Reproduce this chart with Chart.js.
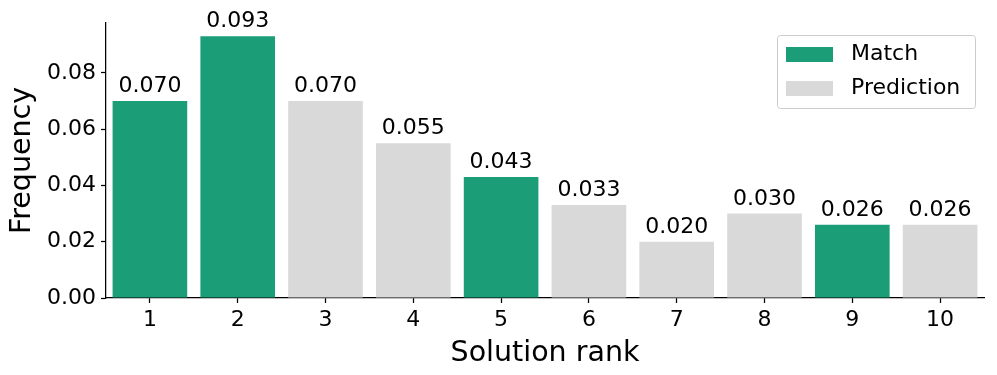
<!DOCTYPE html>
<html>
<head>
<meta charset="utf-8">
<script src="https://cdn.jsdelivr.net/npm/chart.js@4.4.0/dist/chart.umd.min.js"></script>
<style>
  html, body { margin: 0; padding: 0; background: #fff; }
  #wrap { width: 997px; height: 375px; }
</style>
</head>
<body>
<div id="wrap"><canvas id="rankChart" width="997" height="375"></canvas></div>
<script>
const ranks = ["1", "2", "3", "4", "5", "6", "7", "8", "9", "10"];
const frequency = [0.070, 0.093, 0.070, 0.055, 0.043, 0.033, 0.020, 0.030, 0.026, 0.026];
const isMatch = [true, true, false, false, true, false, false, false, true, false];
const yTicks = [0.00, 0.02, 0.04, 0.06, 0.08];

const matchColor = "#1b9e77";
const predColor = "#d9d9d9";
const font = "'DejaVu Sans', sans-serif";

const matchData = frequency.map((v, i) => (isMatch[i] ? v : null));
const predData = frequency.map((v, i) => (isMatch[i] ? null : v));

// labels above bars
const valueLabels = {
  id: "valueLabels",
  afterDatasetsDraw(chart) {
    const ctx = chart.ctx;
    ctx.save();
    ctx.font = "22px " + font;
    ctx.fillStyle = "#000";
    ctx.textAlign = "center";
    ctx.textBaseline = "alphabetic";
    chart.data.datasets.forEach((ds, di) => {
      chart.getDatasetMeta(di).data.forEach((bar, i) => {
        if (ds.data[i] == null) return;
        ctx.fillText(ds.data[i].toFixed(3), bar.x, bar.y - 9);
      });
    });
    ctx.restore();
  },
};

// legend box in the upper right, matplotlib style
const boxLegend = {
  id: "boxLegend",
  afterDraw(chart) {
    const ctx = chart.ctx;
    const x = 777, y = 35, w = 198, h = 73;
    ctx.save();
    ctx.fillStyle = "rgba(255,255,255,0.8)";
    ctx.strokeStyle = "#cccccc";
    ctx.lineWidth = 1;
    ctx.beginPath();
    ctx.roundRect(x + 0.5, y + 0.5, w, h, 3);
    ctx.fill();
    ctx.stroke();
    ctx.font = "22px " + font;
    ctx.textBaseline = "middle";
    ctx.textAlign = "left";
    chart.data.datasets.forEach((ds, i) => {
      const cy = y + 19 + i * 34;
      ctx.fillStyle = ds.backgroundColor;
      ctx.fillRect(x + 9, cy - 7, 47, 15);
      ctx.fillStyle = "#000";
      ctx.fillText(ds.label, x + 74, cy);
    });
    ctx.restore();
  },
};

new Chart(document.getElementById("rankChart"), {
  type: "bar",
  data: {
    labels: ranks,
    datasets: [
      { label: "Match", data: matchData, backgroundColor: matchColor },
      { label: "Prediction", data: predData, backgroundColor: predColor },
    ],
  },
  options: {
    responsive: false,
    animation: false,
    layout: { padding: { top: 23, right: 13, left: 0, bottom: 0 } },
    datasets: { bar: { barPercentage: 0.85, categoryPercentage: 1, skipNull: true } },
    scales: {
      x: {
        stacked: true,
        border: { color: "#000", width: 1.25 },
        grid: { display: true, offset: false, drawOnChartArea: false, tickLength: 5, tickColor: "#000", tickWidth: 1.25 },
        ticks: { color: "#000", font: { family: font, size: 22 }, padding: 4 },
        title: { display: true, text: "Solution rank", color: "#000", font: { family: font, size: 28.5 }, padding: { top: 0, bottom: 4 } },
        afterFit: (s) => { s.height = 77; },
      },
      y: {
        stacked: true,
        min: 0,
        max: 0.0977,
        border: { color: "#000", width: 1.25 },
        grid: { display: true, drawOnChartArea: false, tickLength: 5, tickColor: "#000", tickWidth: 1.25 },
        afterBuildTicks: (s) => { s.ticks = yTicks.map((v) => ({ value: v })); },
        ticks: {
          color: "#000",
          font: { family: font, size: 22 },
          padding: 5,
          callback: (v) => Number(v).toFixed(2),
        },
        title: { display: true, text: "Frequency", color: "#000", font: { family: font, size: 28.5 }, padding: { top: 5, bottom: 0 } },
        afterFit: (s) => { s.width = 106; },
      },
    },
    plugins: {
      legend: { display: false },
      tooltip: { enabled: false },
    },
  },
  plugins: [valueLabels, boxLegend],
});
</script>
</body>
</html>
